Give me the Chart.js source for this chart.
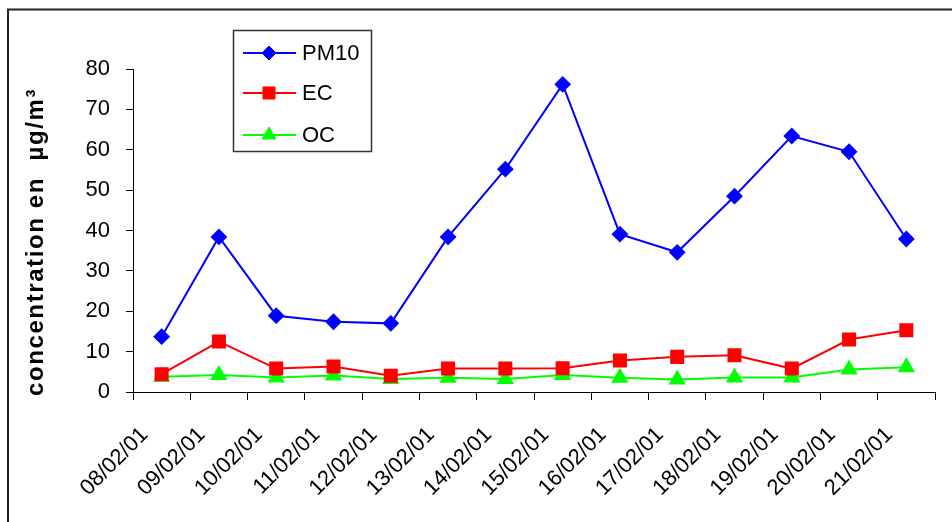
<!DOCTYPE html>
<html>
<head>
<meta charset="utf-8">
<script src="https://cdn.jsdelivr.net/npm/chart.js@4"></script>
<style>
    body { margin: 0; background: #fff; }
    #wrap { position: relative; width: 952px; height: 522px; }
</style>
</head>
<body>
<div id="wrap"><canvas id="graf"></canvas></div>
<script>
// dates (x categories)
const jours = ['08/02/01','09/02/01','10/02/01','11/02/01','12/02/01','13/02/01','14/02/01',
               '15/02/01','16/02/01','17/02/01','18/02/01','19/02/01','20/02/01','21/02/01'];
// concentrations in µg/m3
const pm10 = [13.7, 38.4, 18.9, 17.4, 17.0, 38.4, 55.2, 76.2, 39.1, 34.6, 48.5, 63.4, 59.5, 37.9];
const ec   = [4.4, 12.5, 5.8, 6.3, 4.0, 5.8, 5.8, 5.9, 7.8, 8.7, 9.1, 5.8, 13.0, 15.3];
const oc   = [3.8, 4.2, 3.6, 4.1, 3.2, 3.5, 3.2, 4.2, 3.5, 3.1, 3.6, 3.6, 5.6, 6.1];
const titreY = 'concentration en  µg/m³';

const police = "'Liberation Sans', Arial, sans-serif";

// outer frame of the chart
const cadre = {
    id: 'cadre',
    beforeDraw(chart) {
        const ctx = chart.ctx;
        ctx.save();
        ctx.strokeStyle = '#222';
        ctx.lineWidth = 2;
        ctx.strokeRect(8, 9.5, 2000, 2000);
        ctx.restore();
    }
};

// rotated y title with a bit of letter spacing
const titreAxe = {
    id: 'titreAxe',
    afterDraw(chart) {
        const ctx = chart.ctx;
        ctx.save();
        ctx.translate(43, 242);
        ctx.rotate(-Math.PI / 2);
        ctx.font = 'bold 24px ' + police;
        if ('letterSpacing' in ctx) ctx.letterSpacing = '1.6px';
        ctx.fillStyle = '#000';
        ctx.textAlign = 'center';
        ctx.textBaseline = 'alphabetic';
        ctx.fillText(titreY, 0, 0);
        ctx.restore();
    }
};

// boxed legend inside the plot
const legende = {
    id: 'legende',
    afterDraw(chart) {
        const ctx = chart.ctx;
        ctx.save();
        ctx.fillStyle = '#fff';
        ctx.fillRect(233, 30, 139, 122);
        ctx.strokeStyle = '#333';
        ctx.lineWidth = 1.5;
        ctx.strokeRect(233.5, 30.5, 138, 121);
        const ys = [53, 93, 135];
        chart.data.datasets.forEach((ds, i) => {
            const y = ys[i];
            ctx.strokeStyle = ds.borderColor;
            ctx.fillStyle = ds.borderColor;
            ctx.lineWidth = 2;
            ctx.beginPath();
            ctx.moveTo(243, y);
            ctx.lineTo(296, y);
            ctx.stroke();
            ctx.lineWidth = 1;
            Chart.helpers.drawPoint(ctx, {
                pointStyle: ds.pointStyle,
                radius: ds.pointRadius,
                borderWidth: 1
            }, 269, y);
            ctx.fillStyle = '#000';
            ctx.font = '22px ' + police;
            ctx.textBaseline = 'middle';
            ctx.textAlign = 'left';
            ctx.fillText(ds.label, 302, y + 1);
        });
        ctx.restore();
    }
};

function serie(label, data, couleur, style, rayon) {
    return {
        label, data,
        borderColor: couleur,
        backgroundColor: couleur,
        pointBackgroundColor: couleur,
        pointBorderColor: couleur,
        borderWidth: 2,
        pointStyle: style,
        pointRadius: rayon,
        pointHoverRadius: rayon,
        tension: 0
    };
}

new Chart(document.getElementById('graf'), {
    type: 'line',
    data: {
        labels: jours,
        datasets: [
            serie('PM10', pm10, '#0000ff', 'rectRot', 7),
            serie('EC', ec, '#ff0000', 'rect', 8.5),
            serie('OC', oc, '#00ff00', 'triangle', 8)
        ]
    },
    options: {
        responsive: true,
        maintainAspectRatio: false,
        animation: false,
        layout: { padding: { left: 8, right: 17, top: 69, bottom: 0 } },
        plugins: {
            legend: { display: false },
            tooltip: { enabled: false }
        },
        scales: {
            x: {
                type: 'category',
                offset: true,
                grid: {
                    offset: true,
                    drawOnChartArea: false,
                    drawTicks: true,
                    tickLength: 8,
                    color: '#000'
                },
                border: { color: '#000', width: 1 },
                ticks: {
                    color: '#000',
                    font: { family: police, size: 22 },
                    maxRotation: 45,
                    minRotation: 45,
                    autoSkip: false,
                    padding: 22,
                    labelOffset: -17
                },
                afterFit(s) { s.height = 130; }
            },
            y: {
                min: 0,
                max: 80,
                grid: {
                    drawOnChartArea: false,
                    drawTicks: true,
                    tickLength: 7,
                    color: '#000'
                },
                border: { color: '#000', width: 1 },
                ticks: {
                    stepSize: 10,
                    color: '#000',
                    font: { family: police, size: 22 },
                    padding: 16
                },
                afterFit(s) { s.width = 125; }
            }
        }
    },
    plugins: [cadre, titreAxe, legende]
});
</script>
</body>
</html>
